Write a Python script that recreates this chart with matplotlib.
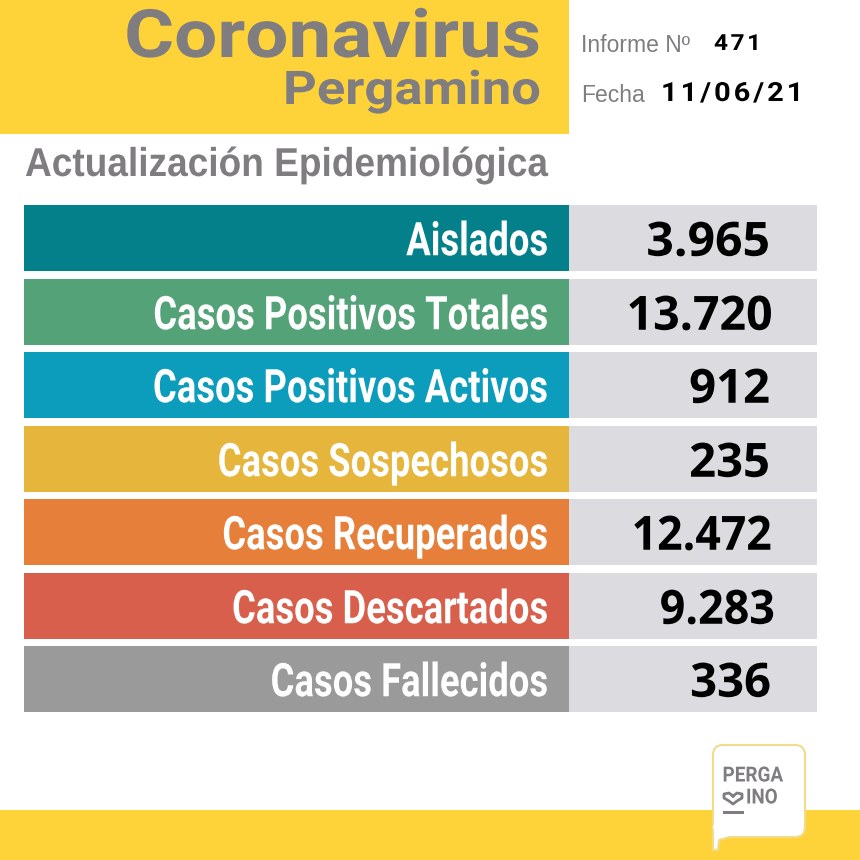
import matplotlib
matplotlib.use("Agg")
import matplotlib.pyplot as plt
from matplotlib.patches import Rectangle, FancyBboxPatch, Polygon
from matplotlib.patheffects import AbstractPathEffect
from matplotlib.transforms import Affine2D

# table contents
categories = ["Aislados", "Casos Positivos Totales", "Casos Positivos Activos",
              "Casos Sospechosos", "Casos Recuperados", "Casos Descartados",
              "Casos Fallecidos"]
value_labels = ["3.965", "13.720", "912", "235", "12.472", "9.283", "336"]
value_right = [770, 773, 770, 770, 772, 775, 771]
value_squeeze = [1.02, 0.985, 1.0, 1.0, 0.945, 0.95, 1.0]
colors = ["#04808a", "#54a378", "#0c9dbc", "#e5b53c", "#e67f3a", "#d75f4c", "#9a9a9a"]
row_tops = [205, 279, 352, 426, 499, 573, 646]
row_height = 65.5

YELLOW = "#fed33a"
GREY = "#7f7d80"
PANEL = "#dcdbe0"
HAIR = "\u200a"


class ScaleX(AbstractPathEffect):
    """Squeeze or widen drawn text horizontally around a pixel column."""

    def __init__(self, sx, x0):
        super().__init__()
        self.sx = sx
        self.x0 = x0

    def draw_path(self, renderer, gc, tpath, affine, rgbFace=None):
        squeeze = Affine2D().translate(-self.x0, 0).scale(self.sx, 1).translate(self.x0, 0)
        renderer.draw_path(gc, tpath, affine + squeeze, rgbFace)


def spaced(s):
    return HAIR.join(s)


fig = plt.figure(figsize=(8.6, 8.6), dpi=100)
ax = fig.add_axes([0, 0, 1, 1])
ax.set_xlim(0, 860)
ax.set_ylim(860, 0)
ax.axis("off")


def label(x, y, s, sx=1.0, **kw):
    # axes fill the figure, so data x is also the pixel column
    return ax.text(x, y, s, path_effects=[ScaleX(sx, x)], **kw)


# header block and bottom strip
ax.add_patch(Rectangle((0, 0), 569, 134, color=YELLOW, lw=0))
ax.add_patch(Rectangle((0, 810), 860, 50, color=YELLOW, lw=0))

bold = dict(family=["Roboto", "DejaVu Sans"], weight="bold")
label(541, 39, "Coronavirus", 1.146, ha="right", va="center", fontsize=48, color=GREY, **bold)
label(541, 91, "Pergamino", 1.128, ha="right", va="center", fontsize=33.5, color=GREY, **bold)
ax.text(581, 45, "Informe Nº", ha="left", va="center", fontsize=16.5, color=GREY,
        family="Liberation Sans")
label(714, 44, spaced("471"), 1.1, ha="left", va="center", fontsize=16, color="black", **bold)
ax.text(581, 95, "Fecha", ha="left", va="center", fontsize=16.5, color=GREY,
        family="Liberation Sans")
label(661, 94, spaced("11/06/21"), 1.1, ha="left", va="center", fontsize=19, color="black", **bold)
label(25, 165, "Actualización Epidemiológica", 0.92, ha="left", va="center", fontsize=29,
      color=GREY, family="Liberation Sans", weight="bold")

# rows
ypos = [t + row_height / 2 for t in row_tops]
ax.barh(ypos, [545] * 7, left=24, height=row_height, color=colors, lw=0)
ax.barh(ypos, [248] * 7, left=569, height=row_height, color=PANEL, lw=0)
for y, cat, val, vr, vs in zip(ypos, categories, value_labels, value_right, value_squeeze):
    label(548, y, cat, 0.785, ha="right", va="center_baseline", fontsize=33.4, color="white", **bold)
    label(vr, y, val, vs, ha="right", va="center_baseline", fontsize=34, color="black",
          family="Open Sans", weight="bold")

# logo
ax.add_patch(FancyBboxPatch((716, 748), 86, 86, boxstyle="round,pad=3,rounding_size=10",
                            fc="white", ec="#f0dc8c", lw=1.5, zorder=3))
ax.add_patch(Polygon([(713, 825), (713, 850), (718, 850), (719, 840), (730, 836), (730, 825)],
                     closed=True, fc="white", ec="none", zorder=4))
ax.plot([713, 713, 718, 719, 730], [830, 850, 850, 840, 837], color="#f0dc8c", lw=1.5, zorder=4)
label(722.5, 776, "PERGA", 0.91, ha="left", va="center", fontsize=15, color=GREY, zorder=5, **bold)
ax.plot([733, 729, 724, 724, 729, 733, 737, 742, 742, 737, 733],
        [796, 793, 794, 798, 801, 804, 801, 798, 794, 793, 796],
        color=GREY, lw=2, zorder=5)
label(746, 798, "INO", 0.9, ha="left", va="center", fontsize=15, color=GREY, zorder=5, **bold)
ax.add_patch(Rectangle((723, 811), 21, 3, fc=GREY, lw=0, zorder=5))

fig.savefig("out.png", dpi=100)
